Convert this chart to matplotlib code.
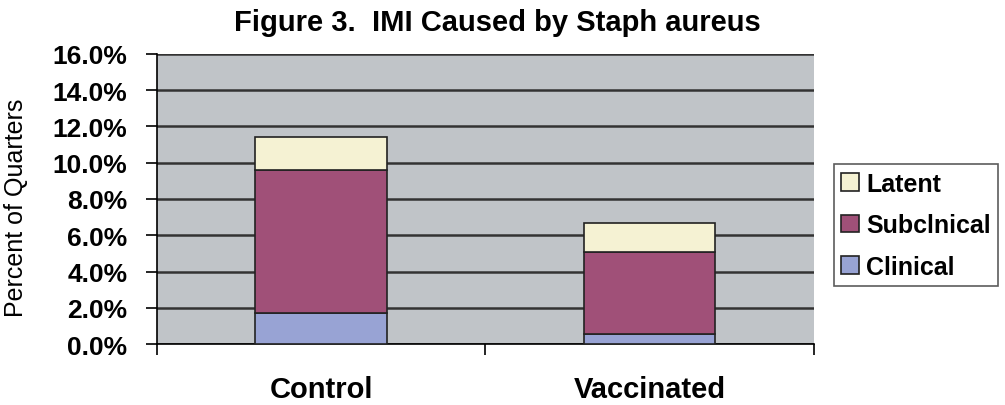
import matplotlib.pyplot as plt
import numpy as np
from matplotlib.ticker import FuncFormatter

groups = ["Control", "Vaccinated"]
clinical = [1.7, 0.55]
subclinical = [7.9, 4.5]
latent = [1.8, 1.65]

plt.rcParams['font.family'] = ['Liberation Sans', 'DejaVu Sans']

fig = plt.figure(figsize=(10.05, 4.06), dpi=100)
ax = fig.add_axes([0.156, 0.150, 0.654, 0.715])
ax.set_facecolor("#c0c4c8")

x = np.arange(len(groups))
w = 0.4
bottom1 = np.array(clinical)
bottom2 = bottom1 + np.array(subclinical)
ax.bar(x, clinical, w, color="#98a3d4", edgecolor="#222222", lw=1.2, label="Clinical", zorder=3)
ax.bar(x, subclinical, w, bottom=bottom1, color="#a05078", edgecolor="#222222", lw=1.2, label="Subclnical", zorder=3)
ax.bar(x, latent, w, bottom=bottom2, color="#f5f2d3", edgecolor="#222222", lw=1.2, label="Latent", zorder=3)

ax.set_xlim(-0.5, 1.5)
ax.set_ylim(0, 16)
ax.set_yticks(np.arange(0, 17, 2))
ax.yaxis.set_major_formatter(FuncFormatter(lambda v, p: f"{v:.1f}%"))
ax.set_xticks([-0.5, 0.5, 1.5], minor=False)
ax.set_xticklabels([])
ax.set_xticks(x, minor=True)
ax.set_xticklabels(groups, minor=True)
ax.tick_params(axis="x", which="minor", length=0, pad=22, labelsize=21)
ax.tick_params(axis="x", which="major", length=8, width=1.2, direction="out")
ax.tick_params(axis="y", length=8, width=1.2, labelsize=19, pad=13)
for lab in ax.get_yticklabels() + ax.get_xticklabels(minor=True):
    lab.set_fontweight("bold")

ax.grid(axis="y", color="#333333", lw=1.8, zorder=1)
ax.set_axisbelow(True)
for s in ["top", "right"]:
    ax.spines[s].set_visible(False)
for s in ["left", "bottom"]:
    ax.spines[s].set_linewidth(1.2)

ax.set_ylabel("Percent of Quarters", fontsize=18)
ax.yaxis.set_label_coords(-0.196, 0.472)
ax.set_title("Figure 3.  IMI Caused by Staph aureus", fontsize=21, fontweight="bold",
             pad=17, x=0.518)

h, l = ax.get_legend_handles_labels()
leg = ax.legend(h[::-1], l[::-1], loc="center left", bbox_to_anchor=(1.03, 0.41),
                frameon=True, fancybox=False, edgecolor="#333333",
                prop={"weight": "bold", "size": 18}, handlelength=0.7, handleheight=0.7,
                handletextpad=0.3, labelspacing=0.7, borderpad=0.3, borderaxespad=0)
leg.get_frame().set_linewidth(1.2)

fig.savefig("out.png", dpi=100)
